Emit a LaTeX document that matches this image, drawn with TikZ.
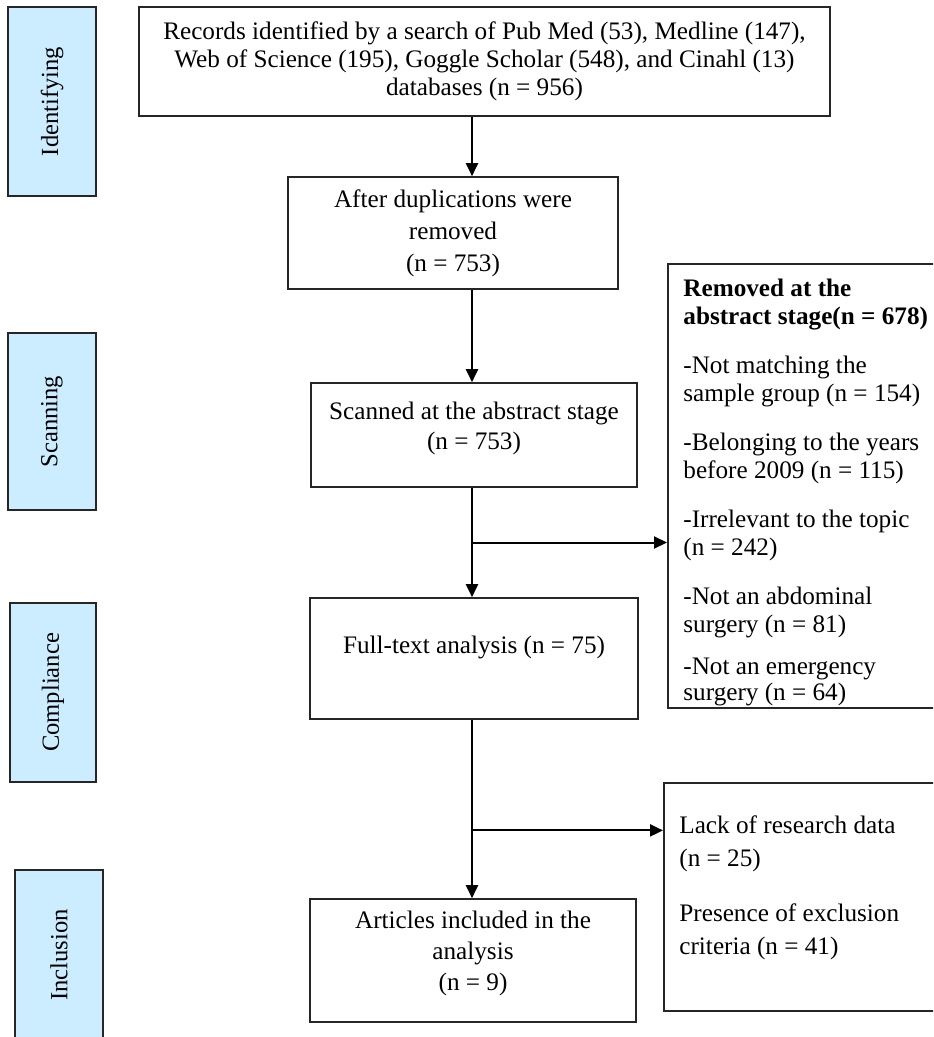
\documentclass[tikz,border=0pt]{standalone}
\usepackage{fontspec}
\setmainfont{Liberation Serif}
\usepackage{xcolor}
\usepackage{tikz}
\usetikzlibrary{positioning,calc,arrows.meta}
\definecolor{stageblue}{RGB}{204,236,255}
\tikzset{
  stage/.style={draw=black!85, line width=0.8pt, fill=stageblue, rotate=90, inner sep=0pt, font=\fontsize{12.3}{14}\selectfont},
  flowbox/.style={draw=black!85, line width=0.8pt, align=center, inner sep=0pt},
  flowarrow/.style={line width=1pt, -{Triangle[length=6.5pt,width=6pt]}}
}

\begin{document}
\begin{tikzpicture}[x=0.5pt,y=-0.5pt,font=\fontsize{12.6}{14}\selectfont]
    \clip (0,0) rectangle (933,1037);
    % stages on the left
    \node[stage, minimum width=94.5pt, minimum height=44pt] (ident) at (52,101.5) {Identifying};
    \node[stage, minimum width=88.5pt, minimum height=44pt] (scanning) at (52,421.5) {Scanning};
    \node[stage, minimum width=89.5pt, minimum height=43pt] (compl) at (53,692.5) {Compliance};
    \node[stage, minimum width=85pt, minimum height=44pt] (incl) at (59,955) {Inclusion};

    % main column
    \node[flowbox, minimum width=345.5pt, minimum height=54.5pt] (recs) at (484.5,61.5) {Records identified by a search of Pub Med (53), Medline (147),\\Web of Science (195), Goggle Scholar (548), and Cinahl (13)\\databases (n = 956)};
    \node[flowbox, minimum width=165pt, minimum height=56pt, font=\fontsize{12.6}{16}\selectfont] (dup) at (453,233) {After duplications were\\removed\\(n = 753)};
    \node[flowbox, minimum width=163pt, minimum height=52pt, font=\fontsize{12.6}{15}\selectfont] (scan) at (474,435) {Scanned at the abstract stage\\(n = 753)\\[-6pt]};
    \node[flowbox, minimum width=164pt, minimum height=60.5pt] (full) at (474,658.5) {Full-text analysis (n = 75)\\[0pt]};
    \node[flowbox, minimum width=163pt, minimum height=61.5pt, font=\fontsize{12.6}{15.5}\selectfont] (art) at (473,960.5) {Articles included in the\\analysis\\(n = 9)\\[-6pt]};

    % exclusion boxes on the right
    \node[flowbox, anchor=north west, minimum width=140pt, minimum height=222pt] (rem) at (667,263) {};
    \node[anchor=north west, inner sep=0pt, align=left] (remtxt) at (683,278.5) {\textbf{Removed at the}\\\textbf{abstract stage(n = 678)}\\[10.5pt]-Not matching the\\sample group (n = 154)\\[10.5pt]-Belonging to the years\\before 2009 (n = 115)\\[10.5pt]-Irrelevant to the topic\\(n = 242)\\[10.5pt]-Not an abdominal\\surgery (n = 81)\\[7pt]-Not an emergency\\[-1pt]surgery (n = 64)};
    \node[flowbox, anchor=north west, minimum width=142pt, minimum height=114pt] (lack) at (663,782) {};
    \node[anchor=north west, inner sep=0pt, align=left, font=\fontsize{12.6}{16.5}\selectfont] (lacktxt) at (679,815) {Lack of research data\\(n = 25)\\[11pt]Presence of exclusion\\criteria (n = 41)};

    % connectors
    \coordinate (spine) at (472,0);
    \draw[flowarrow] (recs.south -| spine) -- (dup.north -| spine);
    \draw[flowarrow] (dup.south -| spine) -- (scan.north -| spine);
    \draw[flowarrow] (scan.south -| spine) -- (full.north -| spine);
    \coordinate (split1) at ($(scan.south -| spine)!0.5!(full.north -| spine)$);
    \draw[flowarrow] (split1) -- (split1 -| rem.west);
    \draw[flowarrow] (full.south -| spine) -- (art.north -| spine);
    \coordinate (split2) at ($(full.south -| spine)!0.62!(art.north -| spine)$);
    \draw[flowarrow] (split2) -- (split2 -| lack.west);
\end{tikzpicture}
\end{document}
